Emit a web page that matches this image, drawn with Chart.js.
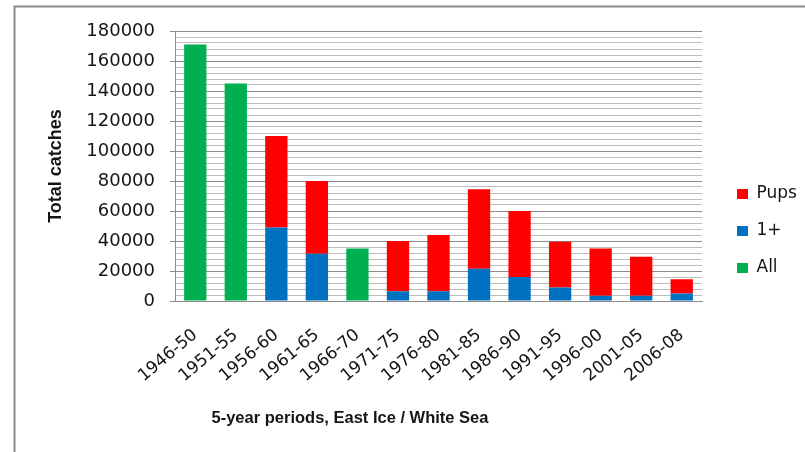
<!DOCTYPE html>
<html>
<head>
<meta charset="utf-8">
<script src="https://cdn.jsdelivr.net/npm/chart.js@4/dist/chart.umd.min.js"></script>
<style>
  html, body { margin: 0; padding: 0; background: #ffffff; }
  #wrap { width: 805px; height: 452px; }
</style>
</head>
<body>
<div id="wrap"><canvas id="c" width="805" height="452"></canvas></div>
<script>
// Harp seal catches by 5-year period, East Ice / White Sea
const periods = ['1946-50', '1951-55', '1956-60', '1961-65', '1966-70', '1971-75', '1976-80',
                 '1981-85', '1986-90', '1991-95', '1996-00', '2001-05', '2006-08'];
const catchesOnePlus = [null, null, 49000, 31500, null, 6500, 6500, 21500, 16000, 9000, 3500, 3500, 5000];
const catchesPups    = [null, null, 61000, 48500, null, 33500, 37500, 53000, 44000, 30500, 31500, 26000, 9500];
const catchesAll     = [171000, 145000, null, null, 35000, null, null, null, null, null, null, null, null];

const yMax = 180000;
const yMinorStep = 4000;
const yMajorStep = 20000;

const yTitle = 'Total catches';
const xTitle = '5-year periods, East Ice / White Sea';

const COLORS = { pups: '#ff0000', onePlus: '#0070c0', all: '#00b050' };
const GRID_MAJOR = '#8c8c8c';
const GRID_MINOR = '#bdbdbd';
const TEXT = '#151515';

// Legend lists Pups, 1+, All while bars stack 1+ under Pups
const legendRank = [1, 0, 2];

// White page with the frame lines on the top and left edges
const framePlugin = {
  id: 'frame',
  beforeDraw(chart) {
    const ctx = chart.ctx;
    ctx.save();
    ctx.fillStyle = '#ffffff';
    ctx.fillRect(0, 0, chart.width, chart.height);
    ctx.strokeStyle = '#8a8a8a';
    ctx.lineWidth = 2;
    ctx.beginPath();
    ctx.moveTo(14.5, chart.height);
    ctx.lineTo(14.5, 6.5);
    ctx.lineTo(chart.width, 6.5);
    ctx.stroke();
    ctx.restore();
  }
};

// Category axis title, placed under the rotated period labels
const xTitlePlugin = {
  id: 'xTitle',
  afterDraw(chart) {
    const ctx = chart.ctx;
    ctx.save();
    ctx.font = 'bold 16.5px "Liberation Sans", Arial, sans-serif';
    ctx.fillStyle = TEXT;
    ctx.textAlign = 'center';
    ctx.textBaseline = 'middle';
    ctx.fillText(xTitle, 350, 418);
    ctx.restore();
  }
};

new Chart(document.getElementById('c'), {
  type: 'bar',
  data: {
    labels: periods,
    datasets: [
      { label: '1+',   data: catchesOnePlus, backgroundColor: COLORS.onePlus, borderWidth: 0 },
      { label: 'Pups', data: catchesPups,    backgroundColor: COLORS.pups,    borderWidth: 0 },
      { label: 'All',  data: catchesAll,     backgroundColor: COLORS.all,     borderWidth: 0 }
    ]
  },
  options: {
    responsive: false,
    animation: false,
    layout: { padding: { left: 0, right: 0, top: 31, bottom: 21 } },
    datasets: { bar: { barPercentage: 0.55, categoryPercentage: 1.0 } },
    plugins: {
      tooltip: { enabled: false },
      legend: {
        position: 'right',
        maxWidth: 88,
        labels: {
          boxWidth: 11,
          boxHeight: 10,
          padding: 20,
          color: TEXT,
          font: { family: '"DejaVu Sans", sans-serif', size: 17 },
          sort: (a, b) => legendRank[a.datasetIndex] - legendRank[b.datasetIndex]
        }
      }
    },
    scales: {
      x: {
        stacked: true,
        grid: { display: false },
        border: { display: true, color: GRID_MAJOR, width: 1 },
        ticks: {
          color: TEXT,
          font: { family: '"DejaVu Sans", sans-serif', size: 17 },
          minRotation: 40,
          maxRotation: 40,
          autoSkip: false,
          padding: 16
        },
        afterFit(scale) { scale.height = 130; }
      },
      y: {
        stacked: true,
        min: 0,
        max: yMax,
        grid: {
          color: (c) => (c.tick && c.tick.value % yMajorStep === 0) ? GRID_MAJOR : GRID_MINOR,
          tickColor: (c) => (c.tick && c.tick.value % yMajorStep === 0) ? GRID_MAJOR : 'rgba(0,0,0,0)',
          tickLength: 5,
          lineWidth: 1
        },
        border: { display: true, color: GRID_MAJOR, width: 1 },
        ticks: {
          stepSize: yMinorStep,
          autoSkip: false,
          padding: 15,
          color: TEXT,
          font: { family: '"DejaVu Sans", sans-serif', size: 18 },
          callback: (v) => (v % yMajorStep === 0) ? String(v) : ''
        },
        title: {
          display: true,
          text: yTitle,
          color: TEXT,
          font: { family: '"Liberation Sans", Arial, sans-serif', size: 18, weight: 'bold' },
          padding: { top: 45, bottom: 0 }
        },
        afterFit(scale) { scale.width = 175; }
      },
      gap: {
        type: 'linear',
        position: 'right',
        display: true,
        grid: { display: false },
        border: { display: false },
        ticks: { display: false },
        afterFit(scale) { scale.width = 15; }
      }
    }
  },
  plugins: [framePlugin, xTitlePlugin]
});
</script>
</body>
</html>
